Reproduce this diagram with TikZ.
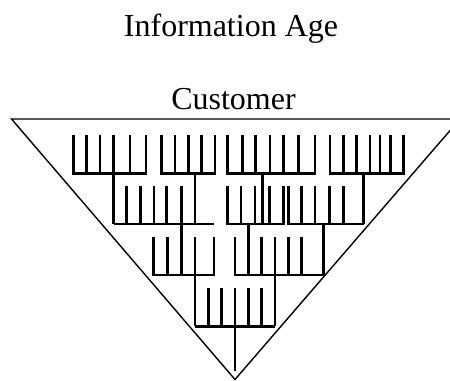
\documentclass[tikz,border=0pt]{standalone}
\usepackage{fontspec}
\setmainfont{Liberation Serif}
\usepackage{tikz}

\tikzset{
	twig/.style={draw=black,line width=1.2pt},
	funnel/.style={draw=black,line width=0.8pt},
	caption/.style={anchor=base,inner sep=0pt,font=\fontsize{18.2pt}{22pt}\selectfont}
}

\begin{document}
\begin{tikzpicture}
		\useasboundingbox (0,0) rectangle (9,7.62);

		\node[caption] (age) at (4.62,6.89) {Information Age};
		\node[caption] (customer) at (4.67,5.43) {Customer};

		\draw[funnel] (0.23,5.24) -- (9.2,5.24) -- (4.70,0.03) -- cycle;

		% top row
		\draw[twig] (1.47,4.92) |- (2.92,4.15) -- (2.92,4.92)
			(1.73,4.92) -- (1.73,4.15) (2.00,4.92) -- (2.00,4.15)
			(2.27,4.92) -- (2.27,3.14) (2.60,4.92) -- (2.60,4.15);
		\draw[twig] (3.23,4.92) |- (4.30,4.15) -- (4.30,4.92)
			(3.50,4.92) -- (3.50,4.15) (3.77,4.92) -- (3.77,4.15)
			(4.03,4.92) -- (4.03,4.15) (3.90,4.15) -- (3.90,3.14);
		\draw[twig] (4.55,4.92) |- (6.30,4.15) -- (6.30,4.92)
			(4.85,4.92) -- (4.85,4.15) (5.11,4.92) -- (5.11,4.15)
			(5.40,4.92) -- (5.40,4.15) (5.67,4.92) -- (5.67,4.15)
			(5.97,4.92) -- (5.97,4.15) (5.25,4.15) -- (5.25,3.14);
		\draw[twig] (6.60,4.92) |- (8.07,4.15) -- (8.07,4.92)
			(6.87,4.92) -- (6.87,4.15) (7.13,4.92) -- (7.13,4.15)
			(7.40,4.92) -- (7.40,4.15) (7.60,4.92) -- (7.60,4.15)
			(7.81,4.92) -- (7.81,4.15) (7.27,4.15) -- (7.27,3.14);

		% second row
		\draw[twig] (2.27,3.14) -- (4.27,3.14)
			(2.53,3.90) -- (2.53,3.14) (2.81,3.90) -- (2.81,3.14)
			(3.08,3.90) -- (3.08,3.14) (3.33,3.90) -- (3.33,3.14)
			(3.63,3.90) -- (3.63,2.12);
		\draw[twig] (4.55,3.90) |- (5.67,3.14) -- (5.67,3.90)
			(4.82,3.90) -- (4.82,3.14) (5.10,3.90) -- (5.10,3.14)
			(5.39,3.90) -- (5.39,3.14) (4.97,3.14) -- (4.97,2.12);
		\draw[twig] (5.77,3.90) |- (7.27,3.14)
			(6.03,3.90) -- (6.03,3.14) (6.30,3.90) -- (6.30,3.14)
			(6.59,3.90) -- (6.59,3.14) (6.87,3.90) -- (6.87,3.14)
			(6.47,3.14) -- (6.47,2.12);

		% third row
		\draw[twig] (3.07,2.87) |- (4.28,2.12) -- (4.28,2.87)
			(3.35,2.87) -- (3.35,2.12) (3.90,2.87) -- (3.90,1.09);
		\draw[twig] (4.70,2.87) |- (6.47,2.12)
			(5.23,2.87) -- (5.23,2.12) (5.50,2.87) -- (5.50,1.09)
			(5.77,2.87) -- (5.77,2.12) (6.03,2.87) -- (6.03,2.12);

		% bottom row
		\draw[twig] (3.90,1.09) -- (5.50,1.09)
			(4.17,1.85) -- (4.17,1.09) (4.43,1.85) -- (4.43,1.09)
			(4.70,1.85) -- (4.70,0.19) (4.97,1.85) -- (4.97,1.09)
			(5.23,1.85) -- (5.23,1.09);

\end{tikzpicture}
\end{document}
